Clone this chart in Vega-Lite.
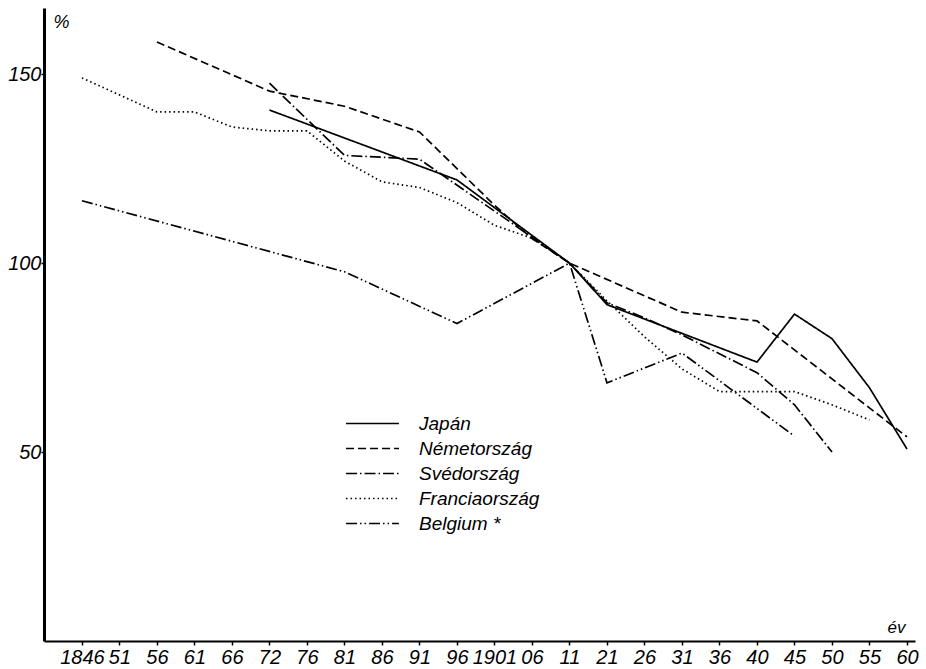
{
  "$schema": "https://vega.github.io/schema/vega-lite/v6.json",
  "width": 871,
  "height": 633,
  "autosize": {"type": "none"},
  "padding": {"left": 44, "top": 8, "right": 11, "bottom": 28},
  "background": "white",
  "config": {
    "view": {"stroke": null},
    "font": "Liberation Sans",
    "axis": {"grid": false, "domainColor": "black", "tickColor": "black", "labelColor": "black", "titleColor": "black"}
  },
  "data": {
    "values": [
      {"orszag": "Japán", "ev": "72", "ertek": 140.5},
      {"orszag": "Japán", "ev": "96", "ertek": 122},
      {"orszag": "Japán", "ev": "11", "ertek": 100},
      {"orszag": "Japán", "ev": "21", "ertek": 89},
      {"orszag": "Japán", "ev": "40", "ertek": 73.8},
      {"orszag": "Japán", "ev": "45", "ertek": 86.5},
      {"orszag": "Japán", "ev": "50", "ertek": 80},
      {"orszag": "Japán", "ev": "55", "ertek": 67},
      {"orszag": "Japán", "ev": "60", "ertek": 50.8},

      {"orszag": "Németország", "ev": "56", "ertek": 158.5},
      {"orszag": "Németország", "ev": "72", "ertek": 145.5},
      {"orszag": "Németország", "ev": "81", "ertek": 141.5},
      {"orszag": "Németország", "ev": "91", "ertek": 134.7},
      {"orszag": "Németország", "ev": "1901", "ertek": 115.3},
      {"orszag": "Németország", "ev": "06", "ertek": 106.5},
      {"orszag": "Németország", "ev": "11", "ertek": 100},
      {"orszag": "Németország", "ev": "31", "ertek": 87},
      {"orszag": "Németország", "ev": "40", "ertek": 84.7},
      {"orszag": "Németország", "ev": "60", "ertek": 54},

      {"orszag": "Svédország", "ev": "72", "ertek": 147.6},
      {"orszag": "Svédország", "ev": "81", "ertek": 128.5},
      {"orszag": "Svédország", "ev": "91", "ertek": 127.5},
      {"orszag": "Svédország", "ev": "11", "ertek": 100},
      {"orszag": "Svédország", "ev": "21", "ertek": 89.5},
      {"orszag": "Svédország", "ev": "26", "ertek": 85.5},
      {"orszag": "Svédország", "ev": "31", "ertek": 81},
      {"orszag": "Svédország", "ev": "40", "ertek": 71},
      {"orszag": "Svédország", "ev": "45", "ertek": 62.5},
      {"orszag": "Svédország", "ev": "50", "ertek": 50},

      {"orszag": "Franciaország", "ev": "1846", "ertek": 149},
      {"orszag": "Franciaország", "ev": "56", "ertek": 140},
      {"orszag": "Franciaország", "ev": "61", "ertek": 140},
      {"orszag": "Franciaország", "ev": "66", "ertek": 136},
      {"orszag": "Franciaország", "ev": "72", "ertek": 135},
      {"orszag": "Franciaország", "ev": "76", "ertek": 135},
      {"orszag": "Franciaország", "ev": "81", "ertek": 127},
      {"orszag": "Franciaország", "ev": "86", "ertek": 121.5},
      {"orszag": "Franciaország", "ev": "91", "ertek": 120},
      {"orszag": "Franciaország", "ev": "96", "ertek": 116},
      {"orszag": "Franciaország", "ev": "1901", "ertek": 110},
      {"orszag": "Franciaország", "ev": "06", "ertek": 106.6},
      {"orszag": "Franciaország", "ev": "11", "ertek": 100},
      {"orszag": "Franciaország", "ev": "21", "ertek": 90},
      {"orszag": "Franciaország", "ev": "26", "ertek": 80.5},
      {"orszag": "Franciaország", "ev": "31", "ertek": 72},
      {"orszag": "Franciaország", "ev": "36", "ertek": 66},
      {"orszag": "Franciaország", "ev": "40", "ertek": 66},
      {"orszag": "Franciaország", "ev": "45", "ertek": 66},
      {"orszag": "Franciaország", "ev": "50", "ertek": 62.5},
      {"orszag": "Franciaország", "ev": "55", "ertek": 58.5},

      {"orszag": "Belgium *", "ev": "1846", "ertek": 116.5},
      {"orszag": "Belgium *", "ev": "81", "ertek": 97.7},
      {"orszag": "Belgium *", "ev": "96", "ertek": 84},
      {"orszag": "Belgium *", "ev": "11", "ertek": 100},
      {"orszag": "Belgium *", "ev": "21", "ertek": 68.3},
      {"orszag": "Belgium *", "ev": "31", "ertek": 76.2},
      {"orszag": "Belgium *", "ev": "45", "ertek": 54.2}
    ]
  },
  "mark": {"type": "line", "color": "black", "strokeWidth": 1.7},
  "encoding": {
    "x": {
      "field": "ev",
      "type": "ordinal",
      "sort": ["1846", "51", "56", "61", "66", "72", "76", "81", "86", "91", "96", "1901", "06", "11", "21", "26", "31", "36", "40", "45", "50", "55", "60"],
      "scale": {
        "type": "point",
        "domain": ["1846", "51", "56", "61", "66", "72", "76", "81", "86", "91", "96", "1901", "06", "11", "21", "26", "31", "36", "40", "45", "50", "55", "60"],
        "padding": 0.613,
        "align": 0.826
      },
      "axis": {
        "title": "év",
        "titleX": 852,
        "titleY": -14,
        "titleAlign": "center",
        "titleBaseline": "middle",
        "titleFont": "Liberation Sans",
        "titleFontStyle": "italic",
        "titleFontWeight": "normal",
        "titleFontSize": 17,
        "labelAngle": 0,
        "labelFont": "Liberation Sans",
        "labelFontStyle": "italic",
        "labelFontSize": 20,
        "labelPadding": 2,
        "labelOverlap": false,
        "domainWidth": 2,
        "tickSize": 4,
        "tickWidth": 1.5
      }
    },
    "y": {
      "field": "ertek",
      "type": "quantitative",
      "scale": {"domain": [0, 167.5], "nice": false},
      "axis": {
        "title": "%",
        "titleAngle": 0,
        "titleX": 17,
        "titleY": 14,
        "titleAlign": "center",
        "titleBaseline": "middle",
        "titleFont": "Liberation Sans",
        "titleFontStyle": "italic",
        "titleFontWeight": "normal",
        "titleFontSize": 18,
        "values": [50, 100, 150],
        "labelFont": "Liberation Sans",
        "labelFontStyle": "italic",
        "labelFontSize": 20,
        "labelPadding": 0,
        "domainWidth": 3,
        "tickSize": 3,
        "tickWidth": 1.5
      }
    },
    "strokeDash": {
      "field": "orszag",
      "type": "nominal",
      "scale": {
        "domain": ["Japán", "Németország", "Svédország", "Franciaország", "Belgium *"],
        "range": [[1, 0], [8, 4], [11, 3, 1.5, 3], [1.5, 3], [11, 3, 1.5, 3, 1.5, 3]]
      },
      "legend": {
        "title": null,
        "orient": "none",
        "legendX": 319,
        "legendY": 406,
        "symbolType": "M-5,0H5",
        "symbolSize": 112,
        "symbolStrokeWidth": 1.5,
        "symbolStrokeColor": "black",
        "symbolFillColor": "transparent",
        "labelFont": "Liberation Sans",
        "labelFontStyle": "italic",
        "labelFontSize": 19,
        "labelColor": "black",
        "labelOffset": 37,
        "rowPadding": 5,
        "padding": 0
      }
    }
  }
}
